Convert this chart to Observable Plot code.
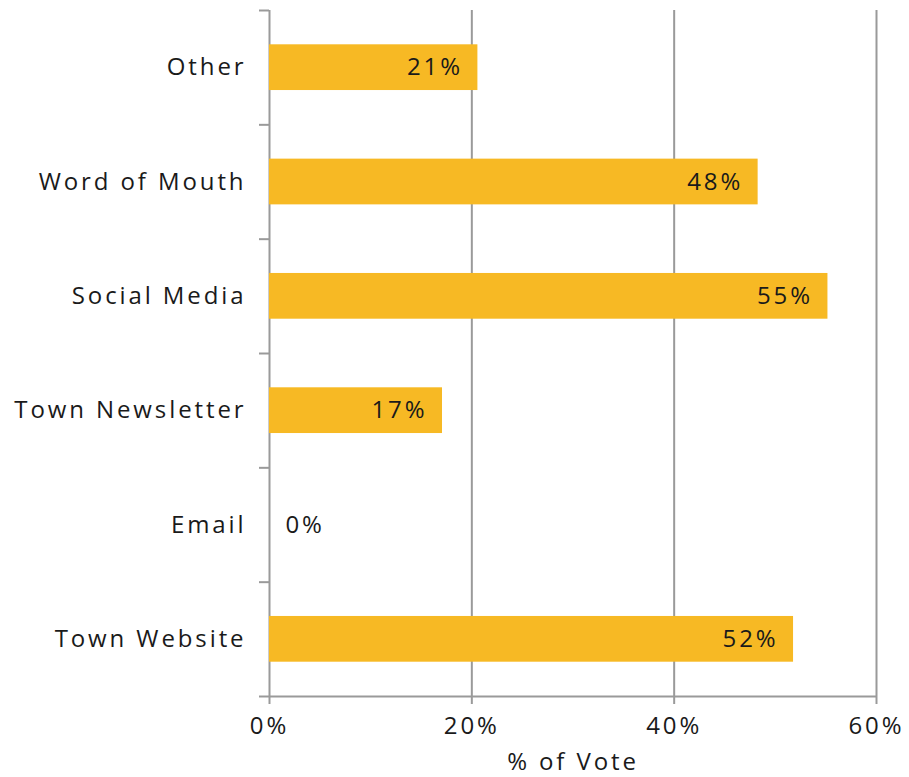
<!DOCTYPE html>
<html>
<head>
<meta charset="utf-8">
<script src="https://cdn.jsdelivr.net/npm/d3@7"></script>
<script src="https://cdn.jsdelivr.net/npm/@observablehq/plot@0.6"></script>
<style>
  body { margin: 0; background: #fff; }
  svg { font-family: "Open Sans", sans-serif; }
</style>
</head>
<body>
<div id="chart"></div>
<script>
const categories = ["Other", "Word of Mouth", "Social Media", "Town Newsletter", "Email", "Town Website"];
const values = [20.6, 48.3, 55.2, 17.1, 0, 51.8];
const labels = ["21%", "48%", "55%", "17%", "0%", "52%"];
const xTicks = [0, 20, 40, 60];

const data = categories.map((c, i) => ({ category: c, idx: i, value: values[i], label: labels[i] }));
const boundaries = d3.range(categories.length + 1);
const centers = categories.map((c, i) => i + 0.5);

const gray = "#9a9a9a";
const barColor = "#F7B924";
const ink = "#1a1a1a";

const chart = Plot.plot({
  width: 909,
  height: 777,
  marginLeft: 269,
  marginRight: 33,
  marginTop: 10,
  marginBottom: 81,
  style: { fontSize: "24px", fontFamily: "'Open Sans', sans-serif", color: ink, letterSpacing: "2.9px" },
  x: { domain: [0, 60] },
  y: { domain: [0, categories.length], reverse: true },
  marks: [
    Plot.ruleX(xTicks, { stroke: gray, strokeWidth: 2, strokeOpacity: 1 }),
    Plot.rectX(data, { x1: 0, x2: "value", y1: d => d.idx + 0.3, y2: d => d.idx + 0.7, fill: barColor }),
    Plot.ruleY([categories.length], { x1: 0, x2: 60, stroke: gray, strokeWidth: 2 }),
    Plot.axisY(boundaries, { tickSize: 10, tickFormat: () => "", stroke: gray, strokeWidth: 2, strokeOpacity: 1 }),
    Plot.axisY(centers, { tickSize: 0, tickPadding: 23, tickFormat: v => categories[Math.floor(v)], fontSize: 24, fill: ink }),
    Plot.axisX(xTicks, { tickSize: 8, tickPadding: 12, tickFormat: v => v + "%", stroke: gray, strokeWidth: 2, strokeOpacity: 1, fontSize: 24, fill: ink, label: null }),
    Plot.text(["% of Vote"], { frameAnchor: "bottom", dy: 73, fontSize: 24, fill: ink }),
    Plot.text(data.filter(d => d.value > 5), { x: "value", y: d => d.idx + 0.5, text: "label", textAnchor: "end", dx: -15, fontSize: 24, fill: ink }),
    Plot.text(data.filter(d => d.value <= 5), { x: "value", y: d => d.idx + 0.5, text: "label", textAnchor: "start", dx: 16, fontSize: 24, fill: ink })
  ]
});
document.getElementById("chart").appendChild(chart);
</script>
</body>
</html>
